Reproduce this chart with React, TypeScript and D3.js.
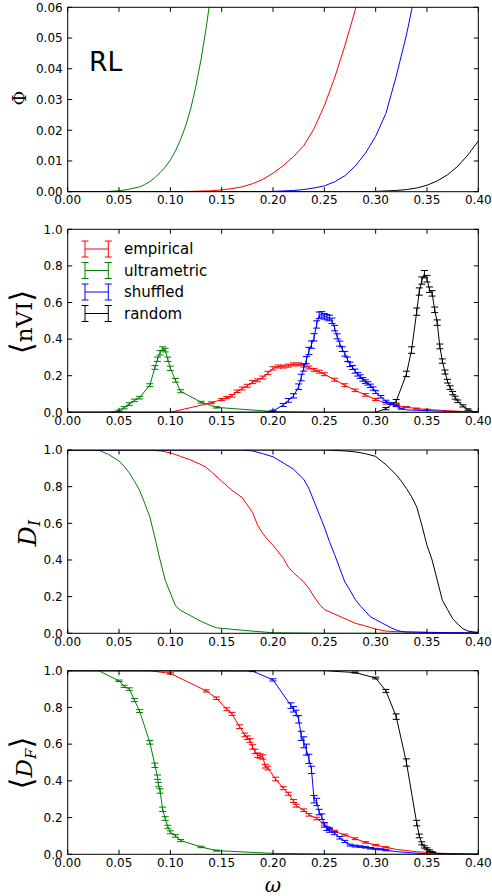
import React from "react";
import * as d3 from "d3";

// ---------- data ----------
const OMEGA_TICKS = [0, 0.05, 0.1, 0.15, 0.2, 0.25, 0.3, 0.35, 0.4];
const PHI_TICKS = [0, 0.01, 0.02, 0.03, 0.04, 0.05, 0.06];
const UNIT_TICKS = [0, 0.2, 0.4, 0.6, 0.8, 1.0];
const SERIES_NAMES = ["empirical", "ultrametric", "shuffled", "random"];
const SERIES_COLORS = ["#ff0000", "#008000", "#0000ff", "#000000"];

// Panel 1: Phi  [omega, value]
const phiEmpirical = [[0, 0], [0.07, 0], [0.1, 0.00002], [0.12, 0.0001], [0.14, 0.0003], [0.15, 0.0006], [0.16, 0.001], [0.17, 0.0016], [0.18, 0.0026], [0.19, 0.004], [0.2, 0.006], [0.21, 0.0085], [0.22, 0.0114], [0.23, 0.015], [0.24, 0.0205], [0.25, 0.028], [0.26, 0.037], [0.27, 0.0475], [0.28, 0.059], [0.29, 0.072]];
const phiUltrametric = [[0, 0], [0.02, 0], [0.03, 0.00001], [0.04, 0.0001], [0.05, 0.0003], [0.06, 0.0008], [0.07, 0.0016], [0.075, 0.0023], [0.08, 0.0033], [0.085, 0.0046], [0.09, 0.0062], [0.095, 0.008], [0.1, 0.0103], [0.105, 0.0133], [0.11, 0.017], [0.115, 0.0215], [0.12, 0.0272], [0.125, 0.0345], [0.13, 0.0432], [0.135, 0.0535], [0.14, 0.0655]];
const phiShuffled = [[0, 0], [0.15, 0], [0.18, 0.00002], [0.2, 0.0001], [0.22, 0.0004], [0.23, 0.0007], [0.24, 0.0012], [0.25, 0.0019], [0.26, 0.0032], [0.27, 0.0052], [0.28, 0.0083], [0.29, 0.0125], [0.3, 0.018], [0.31, 0.0255], [0.32, 0.0375], [0.33, 0.051], [0.335, 0.059], [0.34, 0.067]];
const phiRandom = [[0, 0], [0.28, 0], [0.3, 0.0001], [0.32, 0.0004], [0.33, 0.0007], [0.34, 0.0012], [0.35, 0.0021], [0.36, 0.0035], [0.37, 0.0055], [0.38, 0.0083], [0.39, 0.012], [0.4, 0.0165]];

// Panel 2: <nVI>  [omega, mean, err]
const nviEmpirical = [[0, 0, 0], [0.1, 0, 0], [0.14, 0.052, 0.005], [0.15, 0.07, 0.006], [0.155, 0.08, 0.006], [0.16, 0.09, 0.007], [0.165, 0.115, 0.007], [0.17, 0.13, 0.008], [0.175, 0.145, 0.008], [0.18, 0.165, 0.008], [0.185, 0.175, 0.008], [0.19, 0.19, 0.008], [0.195, 0.215, 0.009], [0.2, 0.24, 0.009], [0.205, 0.25, 0.008], [0.21, 0.25, 0.008], [0.215, 0.255, 0.008], [0.22, 0.262, 0.008], [0.225, 0.262, 0.008], [0.23, 0.255, 0.008], [0.235, 0.245, 0.008], [0.24, 0.232, 0.008], [0.245, 0.222, 0.008], [0.25, 0.208, 0.008], [0.26, 0.178, 0.008], [0.27, 0.148, 0.008], [0.28, 0.12, 0.007], [0.29, 0.095, 0.007], [0.3, 0.07, 0.006], [0.31, 0.05, 0.005], [0.32, 0.038, 0.004], [0.33, 0.028, 0.003], [0.34, 0.02, 0.003], [0.35, 0.015, 0.002], [0.36, 0.012, 0], [0.37, 0.009, 0], [0.38, 0.006, 0], [0.39, 0.003, 0], [0.4, 0, 0]];
const nviUltrametric = [[0, 0, 0], [0.01, 0, 0], [0.02, 0, 0], [0.03, 0, 0], [0.04, 0.001, 0], [0.05, 0.008, 0.004], [0.055, 0.025, 0.006], [0.06, 0.045, 0.007], [0.065, 0.065, 0.007], [0.07, 0.08, 0.007], [0.08, 0.148, 0.008], [0.085, 0.245, 0.01], [0.0875, 0.29, 0.012], [0.09, 0.325, 0.012], [0.0925, 0.348, 0.01], [0.095, 0.34, 0.01], [0.0975, 0.29, 0.012], [0.1, 0.24, 0.012], [0.105, 0.175, 0.01], [0.11, 0.115, 0.008], [0.13, 0.055, 0.005], [0.145, 0.027, 0.004], [0.2, 0.004, 0], [0.25, 0, 0], [0.3, 0, 0], [0.35, 0, 0], [0.4, 0, 0]];
const nviShuffled = [[0, 0, 0], [0.19, 0, 0], [0.2, 0.007, 0.004], [0.21, 0.04, 0.008], [0.215, 0.065, 0.01], [0.22, 0.09, 0.012], [0.225, 0.14, 0.015], [0.2275, 0.19, 0.018], [0.23, 0.245, 0.02], [0.2325, 0.285, 0.02], [0.235, 0.335, 0.02], [0.2375, 0.37, 0.02], [0.24, 0.41, 0.02], [0.2425, 0.48, 0.02], [0.245, 0.53, 0.018], [0.2475, 0.535, 0.015], [0.25, 0.525, 0.015], [0.2525, 0.52, 0.015], [0.255, 0.515, 0.015], [0.2575, 0.5, 0.015], [0.26, 0.46, 0.015], [0.2625, 0.415, 0.014], [0.265, 0.375, 0.014], [0.2675, 0.345, 0.013], [0.27, 0.32, 0.013], [0.2725, 0.29, 0.012], [0.275, 0.262, 0.012], [0.2775, 0.245, 0.011], [0.28, 0.225, 0.011], [0.2825, 0.208, 0.01], [0.285, 0.195, 0.01], [0.2875, 0.18, 0.01], [0.29, 0.168, 0.01], [0.2925, 0.158, 0.009], [0.295, 0.145, 0.009], [0.2975, 0.13, 0.009], [0.3, 0.11, 0.008], [0.305, 0.085, 0.007], [0.31, 0.06, 0.006], [0.315, 0.048, 0.005], [0.32, 0.035, 0.004], [0.325, 0.02, 0.003], [0.33, 0.013, 0], [0.34, 0.011, 0], [0.35, 0.009, 0], [0.36, 0.007, 0], [0.37, 0.005, 0], [0.38, 0.004, 0], [0.39, 0.002, 0], [0.4, 0, 0]];
const nviRandom = [[0, 0, 0], [0.3, 0, 0], [0.31, 0.02, 0.006], [0.32, 0.06, 0.01], [0.33, 0.21, 0.015], [0.335, 0.34, 0.018], [0.34, 0.55, 0.02], [0.3425, 0.66, 0.02], [0.345, 0.72, 0.02], [0.3475, 0.755, 0.02], [0.35, 0.73, 0.018], [0.3525, 0.67, 0.015], [0.355, 0.65, 0.015], [0.3575, 0.56, 0.015], [0.36, 0.49, 0.015], [0.3625, 0.36, 0.013], [0.365, 0.28, 0.012], [0.3675, 0.22, 0.011], [0.37, 0.17, 0.01], [0.3725, 0.135, 0.01], [0.375, 0.105, 0.009], [0.3775, 0.08, 0.008], [0.38, 0.06, 0.007], [0.385, 0.035, 0.006], [0.39, 0.015, 0.004], [0.395, 0.005, 0], [0.4, 0, 0]];

// Panel 3: D_I  [omega, value]
const diEmpirical = [[0, 1], [0.08, 1], [0.09, 0.995], [0.1, 0.985], [0.11, 0.965], [0.12, 0.945], [0.13, 0.92], [0.135, 0.905], [0.14, 0.88], [0.15, 0.83], [0.16, 0.78], [0.165, 0.76], [0.17, 0.74], [0.175, 0.7], [0.18, 0.66], [0.185, 0.59], [0.19, 0.545], [0.195, 0.51], [0.2, 0.48], [0.21, 0.41], [0.215, 0.36], [0.22, 0.33], [0.23, 0.28], [0.235, 0.245], [0.24, 0.2], [0.245, 0.16], [0.25, 0.13], [0.26, 0.105], [0.27, 0.08], [0.28, 0.055], [0.29, 0.04], [0.3, 0.023], [0.31, 0.012], [0.32, 0.009], [0.35, 0.005], [0.4, 0.002]];
const diUltrametric = [[0, 1], [0.03, 1], [0.04, 0.975], [0.05, 0.94], [0.055, 0.91], [0.06, 0.875], [0.065, 0.83], [0.07, 0.78], [0.075, 0.71], [0.08, 0.635], [0.085, 0.52], [0.09, 0.4], [0.095, 0.29], [0.1, 0.22], [0.105, 0.15], [0.11, 0.125], [0.12, 0.095], [0.13, 0.065], [0.14, 0.04], [0.145, 0.03], [0.16, 0.022], [0.18, 0.012], [0.2, 0.003], [0.25, 0], [0.4, 0]];
const diShuffled = [[0, 1], [0.17, 1], [0.18, 0.995], [0.19, 0.98], [0.2, 0.963], [0.21, 0.93], [0.22, 0.895], [0.23, 0.84], [0.235, 0.79], [0.24, 0.72], [0.245, 0.65], [0.25, 0.58], [0.255, 0.5], [0.26, 0.43], [0.265, 0.355], [0.27, 0.28], [0.275, 0.235], [0.28, 0.185], [0.285, 0.15], [0.29, 0.12], [0.295, 0.09], [0.3, 0.075], [0.305, 0.06], [0.31, 0.045], [0.315, 0.03], [0.32, 0.018], [0.325, 0.01], [0.33, 0.007], [0.35, 0.005], [0.4, 0.002]];
const diRandom = [[0, 1], [0.25, 1], [0.27, 0.995], [0.28, 0.99], [0.29, 0.98], [0.3, 0.965], [0.31, 0.92], [0.32, 0.865], [0.325, 0.83], [0.33, 0.79], [0.335, 0.745], [0.34, 0.69], [0.345, 0.59], [0.35, 0.48], [0.355, 0.4], [0.36, 0.29], [0.365, 0.18], [0.37, 0.13], [0.375, 0.08], [0.38, 0.05], [0.385, 0.025], [0.39, 0.012], [0.395, 0.008], [0.4, 0.005]];

// Panel 4: <D_F>  [omega, mean, err]
const dfEmpirical = [[0, 1, 0], [0.08, 1, 0], [0.1, 0.985, 0.004], [0.135, 0.89, 0.006], [0.145, 0.85, 0.007], [0.155, 0.79, 0.008], [0.16, 0.765, 0.008], [0.1675, 0.695, 0.01], [0.1725, 0.65, 0.01], [0.175, 0.635, 0.01], [0.1775, 0.62, 0.01], [0.18, 0.585, 0.012], [0.1825, 0.56, 0.012], [0.185, 0.54, 0.012], [0.1875, 0.535, 0.012], [0.19, 0.53, 0.012], [0.1925, 0.48, 0.01], [0.195, 0.47, 0.01], [0.2025, 0.41, 0.01], [0.21, 0.36, 0.008], [0.215, 0.33, 0.008], [0.22, 0.29, 0.008], [0.2225, 0.265, 0.008], [0.23, 0.24, 0.007], [0.235, 0.215, 0.007], [0.2425, 0.195, 0.007], [0.25, 0.165, 0.006], [0.255, 0.14, 0.006], [0.26, 0.125, 0.006], [0.27, 0.105, 0.005], [0.28, 0.085, 0.005], [0.29, 0.065, 0.004], [0.3, 0.05, 0.004], [0.31, 0.038, 0.003], [0.32, 0.027, 0], [0.34, 0.014, 0], [0.36, 0.006, 0], [0.38, 0.003, 0], [0.4, 0, 0]];
const dfUltrametric = [[0, 1, 0], [0.03, 1, 0], [0.05, 0.945, 0.004], [0.055, 0.915, 0.006], [0.06, 0.9, 0.007], [0.065, 0.84, 0.008], [0.07, 0.78, 0.008], [0.08, 0.61, 0.01], [0.085, 0.485, 0.012], [0.0875, 0.42, 0.012], [0.0885, 0.38, 0.012], [0.09, 0.345, 0.012], [0.0925, 0.245, 0.012], [0.095, 0.195, 0.01], [0.0975, 0.15, 0.008], [0.1, 0.12, 0.008], [0.105, 0.1, 0.007], [0.11, 0.075, 0.006], [0.13, 0.04, 0.004], [0.145, 0.02, 0.003], [0.2, 0.005, 0], [0.25, 0.002, 0], [0.3, 0, 0], [0.4, 0, 0]];
const dfShuffled = [[0, 1, 0], [0.18, 0.998, 0.003], [0.2, 0.95, 0.006], [0.2175, 0.81, 0.015], [0.22, 0.79, 0.015], [0.2225, 0.77, 0.015], [0.225, 0.735, 0.02], [0.2275, 0.645, 0.025], [0.23, 0.61, 0.03], [0.2325, 0.57, 0.03], [0.235, 0.52, 0.025], [0.2375, 0.46, 0.02], [0.24, 0.3, 0.02], [0.2425, 0.285, 0.02], [0.245, 0.23, 0.015], [0.2475, 0.205, 0.015], [0.25, 0.16, 0.012], [0.2525, 0.14, 0.01], [0.255, 0.13, 0.01], [0.26, 0.115, 0.008], [0.265, 0.09, 0.007], [0.27, 0.07, 0.006], [0.275, 0.05, 0.005], [0.28, 0.045, 0.005], [0.285, 0.042, 0.004], [0.29, 0.038, 0.004], [0.295, 0.033, 0.004], [0.3, 0.03, 0.003], [0.305, 0.027, 0.003], [0.31, 0.022, 0.003], [0.32, 0.015, 0], [0.33, 0.01, 0], [0.34, 0.006, 0], [0.35, 0.003, 0], [0.4, 0, 0]];
const dfRandom = [[0, 1, 0], [0.25, 1, 0], [0.28, 0.99, 0.003], [0.3, 0.96, 0.005], [0.31, 0.89, 0.008], [0.32, 0.75, 0.015], [0.33, 0.5, 0.02], [0.34, 0.17, 0.015], [0.3425, 0.1, 0.01], [0.345, 0.06, 0.008], [0.3475, 0.04, 0.006], [0.35, 0.03, 0.005], [0.3525, 0.02, 0.004], [0.355, 0.012, 0.003], [0.36, 0.005, 0], [0.37, 0.002, 0], [0.4, 0, 0]];

// ---------- layout ----------
const W = 492;
const H = 896;
const LEFT = 67.7;
const RIGHT = 478.3;
const TICK = 4.5;
const CAP = 3.5;
const TICK_FONT = "DejaVu Sans, Liberation Sans, sans-serif";
const SERIF = "DejaVu Serif, Liberation Serif, serif";

const x = d3.scaleLinear().domain([0, 0.4]).range([LEFT, RIGHT]);

type Pt = number[];
type Series = { color: string; points: Pt[]; errors?: boolean };

function Panel(props: {
  id: string;
  top: number;
  bottom: number;
  yDomain: [number, number];
  yTicks: number[];
  yFmt: string;
  series: Series[];
  children?: React.ReactNode;
}) {
  const { id, top, bottom, yDomain, yTicks, yFmt, series } = props;
  const y = d3.scaleLinear().domain(yDomain).range([bottom, top]);
  const line = d3
    .line<Pt>()
    .x((d) => x(d[0]))
    .y((d) => y(d[1]));
  const fx = d3.format(".2f");
  const fy = d3.format(yFmt);
  return (
    <g>
      <defs>
        <clipPath id={id}>
          <rect x={LEFT} y={top} width={RIGHT - LEFT} height={bottom - top} />
        </clipPath>
      </defs>
      <g clipPath={`url(#${id})`}>
        {series.map((s, i) => (
          <g key={i} stroke={s.color} fill="none" strokeWidth={1}>
            <path d={line(s.points) || ""} />
            {s.errors &&
              s.points
                .filter((p) => p[2] > 0)
                .map((p, j) => {
                  const cx = x(p[0]);
                  const y0 = y(p[1] - p[2]);
                  const y1 = y(p[1] + p[2]);
                  return (
                    <g key={j}>
                      <line x1={cx} x2={cx} y1={y0} y2={y1} />
                      <line x1={cx - CAP} x2={cx + CAP} y1={y0} y2={y0} />
                      <line x1={cx - CAP} x2={cx + CAP} y1={y1} y2={y1} />
                    </g>
                  );
                })}
          </g>
        ))}
      </g>
      <rect x={LEFT} y={top} width={RIGHT - LEFT} height={bottom - top} fill="none" stroke="#000" strokeWidth={1} />
      {OMEGA_TICKS.map((t, i) => (
        <g key={"x" + i}>
          <line x1={x(t)} x2={x(t)} y1={bottom} y2={bottom - TICK} stroke="#000" />
          <line x1={x(t)} x2={x(t)} y1={top} y2={top + TICK} stroke="#000" />
          <text x={x(t)} y={bottom + 12.5} textAnchor="middle" fontSize={12} fontFamily={TICK_FONT} fill="#000">
            {fx(t)}
          </text>
        </g>
      ))}
      {yTicks.map((t, i) => (
        <g key={"y" + i}>
          <line x1={LEFT} x2={LEFT + TICK} y1={y(t)} y2={y(t)} stroke="#000" />
          <line x1={RIGHT} x2={RIGHT - TICK} y1={y(t)} y2={y(t)} stroke="#000" />
          <text x={LEFT - 5} y={y(t)} dy="0.36em" textAnchor="end" fontSize={12} fontFamily={TICK_FONT} fill="#000">
            {fy(t)}
          </text>
        </g>
      ))}
      {props.children}
    </g>
  );
}

function Legend() {
  const rows = [249, 270.5, 292, 313.5];
  return (
    <g>
      {SERIES_NAMES.map((name, i) => {
        const cy = rows[i];
        const c = SERIES_COLORS[i];
        const xa = 85;
        const xb = 108.3;
        return (
          <g key={name}>
            <g stroke={c} strokeWidth={1}>
              <line x1={xa} x2={xb} y1={cy} y2={cy} />
              <line x1={xa} x2={xa} y1={cy - 8} y2={cy + 8} />
              <line x1={xb} x2={xb} y1={cy - 8} y2={cy + 8} />
              <line x1={xa - CAP} x2={xa + CAP} y1={cy - 8} y2={cy - 8} />
              <line x1={xa - CAP} x2={xa + CAP} y1={cy + 8} y2={cy + 8} />
              <line x1={xb - CAP} x2={xb + CAP} y1={cy - 8} y2={cy - 8} />
              <line x1={xb - CAP} x2={xb + CAP} y1={cy + 8} y2={cy + 8} />
            </g>
            <text x={124} y={cy} dy="0.36em" fontSize={15} fontFamily={TICK_FONT} fill="#000">
              {name}
            </text>
          </g>
        );
      })}
    </g>
  );
}

export default function App() {
  const [cE, cU, cS, cR] = SERIES_COLORS;
  return (
    <svg width={W} height={H} style={{ position: "absolute", left: 0, top: 0, background: "#fff" }}>
      <rect x={0} y={0} width={W} height={H} fill="#fff" />
      <Panel
        id="c1"
        top={7.3}
        bottom={191.7}
        yDomain={[0, 0.06]}
        yTicks={PHI_TICKS}
        yFmt=".2f"
        series={[
          { color: cE, points: phiEmpirical },
          { color: cU, points: phiUltrametric },
          { color: cS, points: phiShuffled },
          { color: cR, points: phiRandom },
        ]}
      >
        <text x={89} y={71} fontSize={26.5} fontFamily={TICK_FONT} fill="#000">
          RL
        </text>
        <text transform="translate(25.5,98) rotate(-90)" textAnchor="middle" fontSize={18} fontFamily={SERIF} fill="#000">
          Φ
        </text>
      </Panel>
      <Panel
        id="c2"
        top={229.3}
        bottom={412.3}
        yDomain={[0, 1]}
        yTicks={UNIT_TICKS}
        yFmt=".1f"
        series={[
          { color: cE, points: nviEmpirical, errors: true },
          { color: cU, points: nviUltrametric, errors: true },
          { color: cS, points: nviShuffled, errors: true },
          { color: cR, points: nviRandom, errors: true },
        ]}
      >
        <Legend />
        <text transform="translate(32,322) rotate(-90)" textAnchor="middle" fontFamily={SERIF} fill="#000">
          <tspan fontSize={31}>⟨</tspan>
          <tspan fontSize={23}>nVI</tspan>
          <tspan fontSize={31}>⟩</tspan>
        </text>
      </Panel>
      <Panel
        id="c3"
        top={450}
        bottom={633.3}
        yDomain={[0, 1]}
        yTicks={UNIT_TICKS}
        yFmt=".1f"
        series={[
          { color: cE, points: diEmpirical },
          { color: cU, points: diUltrametric },
          { color: cS, points: diShuffled },
          { color: cR, points: diRandom },
        ]}
      >
        <text transform="translate(36,533) rotate(-90)" textAnchor="middle" fontFamily={SERIF} fill="#000">
          <tspan fontSize={25} fontStyle="italic">D</tspan>
          <tspan fontSize={16} fontStyle="italic" dy={4}>I</tspan>
        </text>
      </Panel>
      <Panel
        id="c4"
        top={670.7}
        bottom={854.3}
        yDomain={[0, 1]}
        yTicks={UNIT_TICKS}
        yFmt=".1f"
        series={[
          { color: cE, points: dfEmpirical, errors: true },
          { color: cU, points: dfUltrametric, errors: true },
          { color: cS, points: dfShuffled, errors: true },
          { color: cR, points: dfRandom, errors: true },
        ]}
      >
        <text transform="translate(32,763) rotate(-90)" textAnchor="middle" fontFamily={SERIF} fill="#000">
          <tspan fontSize={31}>⟨</tspan>
          <tspan fontSize={23} fontStyle="italic">D</tspan>
          <tspan fontSize={15} fontStyle="italic" dy={4}>F</tspan>
          <tspan fontSize={31} dy={-4}>⟩</tspan>
        </text>
        <text x={273} y={892} textAnchor="middle" fontSize={20} fontStyle="italic" fontFamily={SERIF} fill="#000">
          ω
        </text>
      </Panel>
    </svg>
  );
}
